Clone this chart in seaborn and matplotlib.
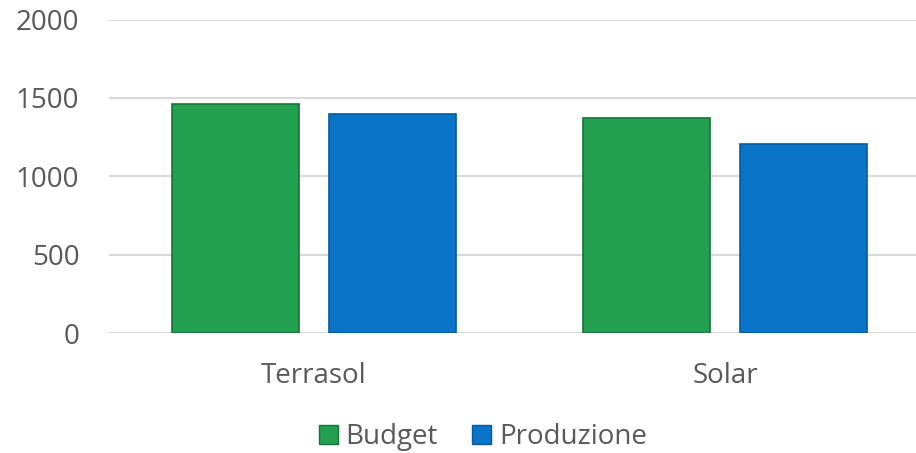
import matplotlib
matplotlib.use("Agg")
import matplotlib.pyplot as plt
import seaborn as sns
import pandas as pd
from matplotlib.patches import Patch

categories = ["Terrasol", "Solar"]
series_names = ["Budget", "Produzione"]
budget = [1460, 1370]
produzione = [1395, 1205]
y_ticks = [0, 500, 1000, 1500, 2000]

colors = {"Budget": "#22A04F", "Produzione": "#0A74C8"}
edges = {"Budget": "#17733A", "Produzione": "#075A9C"}

df = pd.DataFrame({
    "cat": categories * 2,
    "serie": [series_names[0]] * 2 + [series_names[1]] * 2,
    "val": budget + produzione,
})

sns.set_theme(style="white")
plt.rcParams["font.family"] = ["Open Sans", "DejaVu Sans"]
text_color = "#595959"

fig = plt.figure(figsize=(9.16, 4.53), dpi=100)
ax = fig.add_axes([108.5 / 916, (453 - 333) / 453, 822 / 916, (333 - 19.5) / 453])

sns.barplot(data=df, x="cat", y="val", hue="serie", order=categories,
            hue_order=series_names, palette=colors, width=0.764, gap=0.19,
            ax=ax, legend=False, saturation=1)

for cont, name in zip(ax.containers, series_names):
    for p in cont:
        p.set_edgecolor(edges[name])
        p.set_linewidth(1.2)
        p.set_zorder(3)

ax.set_xlim(-0.5, 1.5)
ax.set_ylim(0, 2000)
ax.set_yticks(y_ticks)
ax.set_yticklabels([str(v) for v in y_ticks])
ax.yaxis.grid(True, color="#D9D9D9", linewidth=1.5)
ax.set_axisbelow(True)
for s in ax.spines.values():
    s.set_visible(False)
ax.tick_params(axis="both", length=0, labelsize=20, colors=text_color)
ax.tick_params(axis="y", pad=21)
ax.tick_params(axis="x", pad=21)
ax.set_xlabel("")
ax.set_ylabel("")

handles = [Patch(facecolor=colors[n], edgecolor=edges[n], label=n) for n in series_names]
fig.legend(handles=handles, loc="center", bbox_to_anchor=(0.527, 0.035), ncol=2,
           frameon=False, fontsize=20, handlelength=0.68, handleheight=0.68,
           handletextpad=0.29, columnspacing=1.22, labelcolor=text_color)

fig.savefig("out.png", dpi=100)
